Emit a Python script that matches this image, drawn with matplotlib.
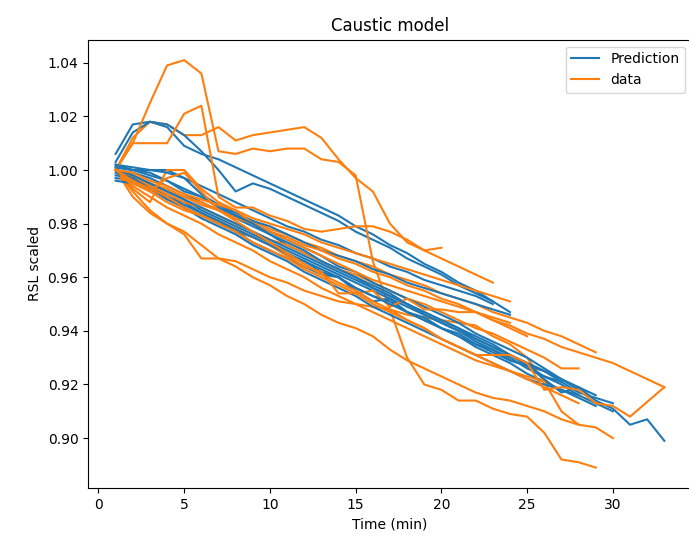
import numpy as np
import matplotlib
matplotlib.use("Agg")
import matplotlib.pyplot as plt

# model predictions (RSL scaled), one list per run, sampled every minute from t=1
pred_runs = [
    [1.006, 1.017, 1.018, 1.016, 1.009, 1.006, 1.004, 1.001, 0.998, 0.995, 0.992, 0.989, 0.986, 0.983, 0.979, 0.976, 0.972, 0.969, 0.965, 0.962, 0.958, 0.955, 0.951, 0.947],
    [1.003, 1.014, 1.018, 1.017, 1.013, 1.007, 1.000, 0.992, 0.995, 0.993, 0.990, 0.987, 0.984, 0.981, 0.977, 0.974, 0.971, 0.967, 0.964, 0.961, 0.957, 0.954, 0.951],
    [1.002, 1.001, 1.000, 1.000, 0.997, 0.994, 0.991, 0.988, 0.985, 0.982, 0.979, 0.977, 0.974, 0.972, 0.969, 0.967, 0.964, 0.962, 0.959, 0.957, 0.955, 0.953, 0.950],
    [0.997, 0.996, 0.993, 0.989, 0.986, 0.983, 0.980, 0.977, 0.973, 0.970, 0.967, 0.964, 0.961, 0.960, 0.955, 0.951, 0.952, 0.947, 0.944, 0.941, 0.938, 0.934, 0.931, 0.928, 0.924, 0.921, 0.918, 0.915, 0.912],
    [1.000, 0.999, 0.997, 0.994, 0.991, 0.988, 0.985, 0.982, 0.979, 0.976, 0.972, 0.969, 0.966, 0.963, 0.960, 0.957, 0.954, 0.950, 0.947, 0.944, 0.941, 0.937, 0.934, 0.931, 0.928, 0.925, 0.921],
    [1.000, 0.998, 0.995, 0.992, 0.989, 0.985, 0.982, 0.979, 0.976, 0.973, 0.970, 0.967, 0.964, 0.961, 0.958, 0.955, 0.952, 0.949, 0.946, 0.943, 0.940, 0.937, 0.934, 0.931, 0.928, 0.925, 0.922, 0.919, 0.916],
    [0.998, 0.997, 0.994, 0.990, 0.988, 0.984, 0.981, 0.977, 0.975, 0.972, 0.968, 0.966, 0.962, 0.960, 0.956, 0.953, 0.951, 0.947, 0.945, 0.941, 0.939, 0.935, 0.933, 0.929, 0.927, 0.923, 0.921, 0.917, 0.915, 0.913],
    [1.001, 1.000, 0.998, 0.996, 0.993, 0.990, 0.987, 0.984, 0.981, 0.979, 0.976, 0.973, 0.970, 0.968, 0.966, 0.963, 0.961, 0.958, 0.956, 0.954, 0.952, 0.950, 0.948, 0.946],
    [1.002, 1.000, 0.999, 0.996, 0.992, 0.990, 0.986, 0.983, 0.980, 0.977, 0.974, 0.971, 0.968, 0.964, 0.962, 0.958, 0.955, 0.952, 0.949, 0.946, 0.943, 0.939, 0.936, 0.933, 0.930, 0.926, 0.922, 0.918],
    [0.996, 0.995, 0.993, 0.990, 0.986, 0.982, 0.979, 0.976, 0.972, 0.969, 0.966, 0.962, 0.959, 0.956, 0.953, 0.949, 0.946, 0.943, 0.940, 0.937, 0.934, 0.931, 0.928, 0.925, 0.922, 0.920, 0.918, 0.916, 0.913, 0.910],
    [1.001, 1.000, 1.000, 0.999, 0.997, 0.991, 0.987, 0.983, 0.980, 0.976, 0.973, 0.970, 0.966, 0.963, 0.960, 0.956, 0.953, 0.950, 0.946, 0.943, 0.940, 0.936, 0.933, 0.930, 0.926, 0.923, 0.920, 0.916],
    [1.000, 0.998, 0.995, 0.992, 0.989, 0.986, 0.983, 0.980, 0.977, 0.974, 0.971, 0.968, 0.965, 0.962, 0.959, 0.956, 0.953, 0.950, 0.947, 0.944, 0.941, 0.938, 0.935, 0.931, 0.927, 0.922, 0.917, 0.919, 0.914, 0.911, 0.905, 0.907, 0.899],
    [0.999, 0.997, 0.993, 0.990, 0.987, 0.984, 0.981, 0.978, 0.975, 0.972, 0.969, 0.966, 0.963, 0.960, 0.956, 0.953, 0.950, 0.947, 0.944, 0.941, 0.938, 0.935, 0.932, 0.929, 0.927, 0.925],
]

# measured data (RSL scaled)
data_runs = [
    [1.000, 1.012, 1.018, 1.017, 1.013, 1.013, 1.016, 1.011, 1.013, 1.014, 1.015, 1.016, 1.012, 1.004, 0.997, 0.992, 0.980, 0.973, 0.970, 0.971],
    [1.000, 1.010, 1.025, 1.039, 1.041, 1.036, 1.007, 1.006, 1.008, 1.007, 1.008, 1.008, 1.004, 1.003, 0.998, 0.966, 0.948, 0.930, 0.920, 0.918, 0.914, 0.914, 0.911, 0.909, 0.908, 0.902, 0.892, 0.891, 0.889],
    [1.000, 1.010, 1.010, 1.010, 1.021, 1.024, 0.990, 0.986, 0.986, 0.983, 0.981, 0.978, 0.977, 0.978, 0.979, 0.979, 0.977, 0.974, 0.970, 0.967, 0.964, 0.961, 0.958],
    [1.000, 0.992, 0.985, 0.980, 0.976, 0.967, 0.967, 0.966, 0.963, 0.960, 0.958, 0.955, 0.953, 0.951, 0.950, 0.949, 0.948, 0.946, 0.945, 0.944, 0.943, 0.942, 0.938, 0.935, 0.930, 0.921, 0.910, 0.905, 0.904, 0.900],
    [1.000, 0.990, 0.984, 0.980, 0.977, 0.972, 0.967, 0.964, 0.960, 0.957, 0.953, 0.950, 0.946, 0.943, 0.941, 0.938, 0.933, 0.929, 0.926, 0.923, 0.920, 0.917, 0.915, 0.914, 0.912, 0.910, 0.907, 0.905],
    [1.000, 0.998, 0.995, 0.992, 0.990, 0.988, 0.985, 0.983, 0.981, 0.978, 0.976, 0.973, 0.971, 0.968, 0.966, 0.964, 0.961, 0.959, 0.957, 0.954, 0.952, 0.950, 0.947, 0.945, 0.943, 0.940, 0.938, 0.935, 0.932],
    [1.000, 0.997, 0.994, 0.991, 0.988, 0.986, 0.983, 0.980, 0.977, 0.974, 0.972, 0.969, 0.966, 0.963, 0.961, 0.958, 0.955, 0.952, 0.950, 0.947, 0.944, 0.941, 0.939, 0.936, 0.933, 0.930, 0.926, 0.926],
    [1.000, 0.998, 0.995, 0.993, 0.990, 0.987, 0.985, 0.982, 0.980, 0.977, 0.975, 0.972, 0.970, 0.967, 0.965, 0.962, 0.960, 0.957, 0.955, 0.952, 0.950, 0.947, 0.944, 0.942, 0.939, 0.937, 0.934, 0.932, 0.930, 0.928, 0.925, 0.922, 0.919],
    [1.000, 0.993, 0.988, 1.000, 1.000, 0.993, 0.988, 0.985, 0.980, 0.977, 0.974, 0.971, 0.968, 0.965, 0.962, 0.959, 0.957, 0.955, 0.953, 0.951, 0.949, 0.947, 0.945, 0.943],
    [1.000, 0.996, 0.992, 0.988, 0.985, 0.983, 0.981, 0.978, 0.975, 0.972, 0.968, 0.964, 0.962, 0.954, 0.954, 0.955, 0.949, 0.952, 0.948, 0.948, 0.947, 0.947, 0.944, 0.941, 0.938],
    [1.000, 0.994, 0.990, 0.986, 0.983, 0.980, 0.976, 0.973, 0.970, 0.966, 0.963, 0.960, 0.956, 0.953, 0.950, 0.947, 0.944, 0.941, 0.938, 0.935, 0.932, 0.929, 0.927, 0.925, 0.923, 0.921],
    [1.000, 0.999, 0.996, 0.994, 0.991, 0.989, 0.987, 0.985, 0.982, 0.980, 0.978, 0.976, 0.973, 0.971, 0.969, 0.967, 0.965, 0.963, 0.961, 0.959, 0.957, 0.955, 0.953, 0.951],
    [1.000, 0.995, 0.992, 0.997, 0.999, 0.992, 0.985, 0.981, 0.977, 0.973, 0.969, 0.965, 0.961, 0.958, 0.955, 0.951, 0.948, 0.944, 0.941, 0.937, 0.934, 0.931, 0.928, 0.925, 0.922, 0.919, 0.916, 0.913],
]

# one run was logged with irregular times
odd_time = [1, 2, 3, 4, 5, 6, 7, 8, 9, 10, 11, 12, 13, 14, 15, 16, 17, 18, 19, 20, 21, 22, 23, 24, 25, 26, 27, 28, 29, 30, 31, 33]
odd_data = [1.000, 0.996, 0.993, 0.990, 0.986, 0.983, 0.980, 0.977, 0.973, 0.970, 0.967, 0.963, 0.960, 0.957, 0.954, 0.950, 0.947, 0.944, 0.941, 0.937, 0.934, 0.931, 0.931, 0.931, 0.928, 0.918, 0.919, 0.918, 0.913, 0.912, 0.908, 0.919]

fig = plt.figure(figsize=(6.89, 5.44), dpi=100)
ax = fig.add_axes([0.128, 0.103, 0.876, 0.824])

for i in range(max(len(pred_runs), len(data_runs))):
    if i < len(pred_runs):
        p = pred_runs[i]
        ax.plot(np.arange(1, len(p) + 1), p, color='tab:blue',
                label='Prediction' if i == 0 else None)
    if i < len(data_runs):
        d = data_runs[i]
        ax.plot(np.arange(1, len(d) + 1), d, color='tab:orange',
                label='data' if i == 0 else None)
ax.plot(odd_time, odd_data, color='tab:orange')

ax.set_title('Caustic model')
ax.set_xlabel('Time (min)')
ax.set_ylabel('RSL scaled')
ax.legend(loc='upper right')

fig.savefig('out.png', dpi=100)
